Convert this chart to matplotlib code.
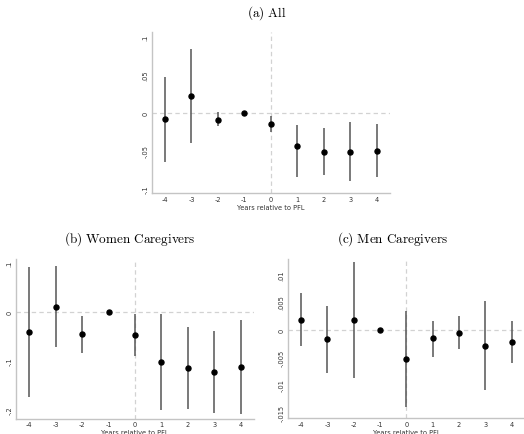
import matplotlib
matplotlib.use("Agg")
import matplotlib.pyplot as plt

plt.rcParams['mathtext.fontset'] = 'cm'
plt.rcParams['font.family'] = ['DejaVu Sans']

years = [-4, -3, -2, -1, 0, 1, 2, 3, 4]

a_coef = [-0.0079, 0.0224, -0.0088, 0.0, -0.0149, -0.0439, -0.0509, -0.0509, -0.0496]
a_lo = [-0.0649, -0.0395, -0.0175, 0.0, -0.0246, -0.0846, -0.0816, -0.0890, -0.0838]
a_hi = [0.0478, 0.0838, 0.0010, 0.0, -0.0044, -0.0158, -0.0202, -0.0123, -0.0149]

b_coef = [-0.0422, 0.0102, -0.0463, 0.0, -0.0483, -0.1034, -0.1156, -0.1238, -0.1136]
b_lo = [-0.1748, -0.0728, -0.0857, 0.0, -0.0912, -0.2020, -0.2000, -0.2075, -0.2095]
b_hi = [0.0905, 0.0925, -0.0082, 0.0, -0.0048, -0.0061, -0.0327, -0.0395, -0.0177]

c_coef = [0.0018, -0.0018, 0.0017, 0.0, -0.0053, -0.0016, -0.0006, -0.0029, -0.0022]
c_lo = [-0.0029, -0.0078, -0.0088, 0.0, -0.0140, -0.0050, -0.0035, -0.0109, -0.0061]
c_hi = [0.0066, 0.0042, 0.0122, 0.0, 0.0033, 0.0016, 0.0024, 0.0052, 0.0016]

a_yticks = [-0.1, -0.05, 0, 0.05, 0.1]
a_ylabels = ["-.1", "-.05", "0", ".05", ".1"]
b_yticks = [-0.2, -0.1, 0, 0.1]
b_ylabels = ["-.2", "-.1", "0", ".1"]
c_yticks = [-0.015, -0.01, -0.005, 0, 0.005, 0.01]
c_ylabels = ["-.015", "-.01", "-.005", "0", ".005", ".01"]
xticklabels = ["-4", "-3", "-2", "-1", "0", "1", "2", "3", "4"]

titles = [r"$\mathrm{(a)\ All}$", r"$\mathrm{(b)\ Women\ Caregivers}$", r"$\mathrm{(c)\ Men\ Caregivers}$"]
xlabel = "Years relative to PFL"

W, H = 524, 435
fig = plt.figure(figsize=(W / 100, H / 100), dpi=100)
fig.patch.set_facecolor('white')


def add_ax(l, r, t, b):
    return fig.add_axes([l / W, 1 - b / H, (r - l) / W, (b - t) / H])


def panel(ax, coef, lo, hi, yticks, ylabels, ylim):
    ax.set_xlim(-4.5, 4.5)
    ax.set_ylim(*ylim)
    ax.axhline(0, color='#d2d2d2', lw=0.9, ls=(0, (3.5, 2.6)), zorder=1)
    ax.axvline(0, color='#d2d2d2', lw=0.9, ls=(0, (3.5, 2.6)), zorder=1)
    for xi, l, h in zip(years, lo, hi):
        if h != l:
            ax.vlines(xi, l, h, color='#555555', lw=1.1, zorder=2)
    ax.plot(years, coef, 'o', color='black', markersize=3.6, zorder=3)
    ax.set_xticks(years)
    ax.set_xticklabels(xticklabels)
    ax.set_yticks(yticks)
    ax.set_yticklabels(ylabels, rotation=90, va='center')
    ax.tick_params(axis='both', length=0, labelsize=4.8, labelcolor='#333333')
    ax.tick_params(axis='x', pad=2)
    ax.tick_params(axis='y', pad=2.5)
    for s in ['top', 'right']:
        ax.spines[s].set_visible(False)
    for s in ['left', 'bottom']:
        ax.spines[s].set_color('#c4c4c4')
        ax.spines[s].set_linewidth(1.0)
    ax.set_xlabel(xlabel, fontsize=4.8, color='#333333', labelpad=1.5)
    ax.set_facecolor('white')


ax_a = add_ax(151.8, 389.9, 33, 194)
panel(ax_a, a_coef, a_lo, a_hi, a_yticks, a_ylabels, (-0.1053, 0.1066))
ax_b = add_ax(16.1, 253.9, 260, 419.5)
panel(ax_b, b_coef, b_lo, b_hi, b_yticks, b_ylabels, (-0.219, 0.1075))
ax_c = add_ax(288, 524.7, 260, 419.3)
panel(ax_c, c_coef, c_lo, c_hi, c_yticks, c_ylabels, (-0.0161, 0.0128))

fig.text(267 / W, 1 - 13.5 / H, titles[0], ha='center', va='center', fontsize=9.5)
fig.text(130 / W, 1 - 239 / H, titles[1], ha='center', va='center', fontsize=9.5)
fig.text(393 / W, 1 - 239 / H, titles[2], ha='center', va='center', fontsize=9.5)

fig.savefig('out.png', dpi=100, facecolor='white')
